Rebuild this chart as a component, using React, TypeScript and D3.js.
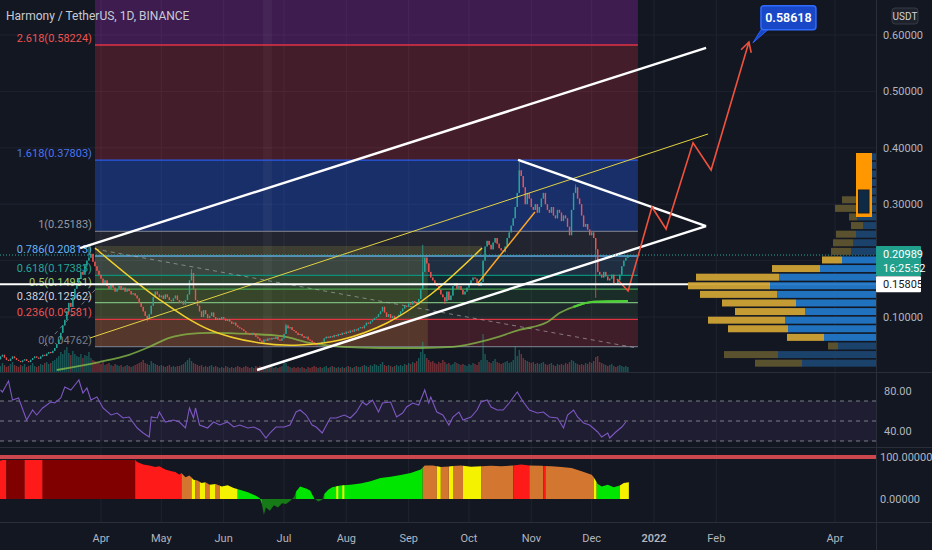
import React from "react";
import * as d3 from "d3";

const W = 932, H = 550;
const PR = 876;
const MAIN_B = 372;
const DAY0 = new Date(2021, 1, 9);
const FONT = "Roboto, 'Noto Sans', sans-serif";

// daily closes (USDT), day 0 = 2021-02-09
const closes = [
0.025,0.030,0.033,0.028,0.024,0.022,0.026,0.030,0.027,0.024,
0.022,0.020,0.023,0.025,0.022,0.020,0.024,0.027,0.030,0.028,
0.026,0.030,0.033,0.031,0.035,0.038,0.036,0.040,0.045,0.052,
0.060,0.072,0.085,0.095,0.110,0.125,0.118,0.135,0.150,0.160,
0.168,0.180,0.175,0.192,0.200,0.205,0.212,0.198,0.190,0.182,
0.175,0.168,0.160,0.165,0.155,0.150,0.158,0.152,0.145,0.150,
0.155,0.148,0.152,0.145,0.150,0.146,0.140,0.142,0.138,0.133,
0.125,0.118,0.110,0.102,0.098,0.105,0.120,0.135,0.145,0.140,
0.135,0.138,0.132,0.140,0.135,0.130,0.128,0.133,0.138,0.130,
0.125,0.128,0.122,0.130,0.140,0.165,0.178,0.150,0.130,0.120,
0.110,0.100,0.112,0.105,0.098,0.102,0.108,0.100,0.095,0.098,
0.095,0.100,0.097,0.093,0.096,0.092,0.088,0.090,0.085,0.082,
0.080,0.078,0.075,0.072,0.070,0.068,0.072,0.068,0.065,0.062,
0.058,0.055,0.060,0.058,0.062,0.060,0.063,0.061,0.065,0.060,
0.058,0.062,0.070,0.085,0.080,0.082,0.077,0.075,0.072,0.068,
0.070,0.066,0.063,0.065,0.060,0.058,0.055,0.052,0.050,0.054,
0.052,0.056,0.062,0.065,0.063,0.066,0.064,0.068,0.066,0.070,
0.068,0.072,0.070,0.074,0.072,0.076,0.074,0.078,0.076,0.080,
0.082,0.080,0.085,0.090,0.088,0.092,0.095,0.098,0.100,0.105,
0.110,0.118,0.108,0.100,0.105,0.098,0.102,0.097,0.100,0.104,
0.110,0.115,0.120,0.118,0.124,0.122,0.128,0.125,0.122,0.132,
0.150,0.180,0.205,0.195,0.180,0.170,0.165,0.160,0.155,0.148,
0.140,0.135,0.128,0.145,0.130,0.138,0.155,0.160,0.150,0.155,
0.148,0.140,0.145,0.152,0.158,0.165,0.170,0.168,0.160,0.155,
0.162,0.200,0.225,0.235,0.228,0.220,0.232,0.240,0.230,0.222,
0.218,0.215,0.225,0.240,0.250,0.262,0.275,0.295,0.320,0.360,
0.350,0.330,0.300,0.320,0.310,0.295,0.290,0.300,0.285,0.295,
0.310,0.320,0.300,0.290,0.285,0.295,0.280,0.275,0.290,0.285,
0.270,0.280,0.275,0.260,0.245,0.290,0.320,0.330,0.310,0.300,
0.280,0.260,0.265,0.255,0.245,0.250,0.240,0.220,0.180,0.175,
0.170,0.180,0.172,0.165,0.168,0.175,0.160,0.158,0.165,0.175,
0.190,0.200,0.205,0.210];

// notable wick extremes: [day, price]
const wicks: [number, number][] = [
  [45, 0.228], [74, 0.092], [96, 0.185], [211, 0.228], [222, 0.123],
  [259, 0.375], [287, 0.335], [297, 0.134], [143, 0.088],
];

const volumes = [
8,6,9,7,5,6,8,10,7,6, 5,7,6,8,5,6,7,9,6,5, 6,8,7,9,10,8,9,11,12,14,
16,20,18,22,25,19,17,21,18,16, 15,18,14,17,16,20,14,12,11,10, 9,8,10,7,8,9,7,6,8,7,
6,7,5,6,7,6,5,6,7,8, 9,10,12,9,8,7,11,9,8,7, 6,7,6,5,6,7,5,6,5,6,
6,7,8,10,12,14,11,9,8,7, 6,7,5,6,5,6,7,5,6,5, 4,5,4,6,5,4,5,4,5,6,
5,4,5,6,5,4,5,4,6,5, 6,5,4,5,4,6,5,4,5,4, 5,6,12,9,6,5,4,5,4,5,
4,5,4,3,5,4,5,6,5,4, 5,4,5,6,4,5,6,5,4,5, 4,5,4,5,6,5,4,5,6,5,
5,6,7,6,5,7,6,8,7,6, 8,10,7,6,7,6,5,6,7,6, 7,6,8,7,9,8,10,9,11,14,
20,30,18,14,12,10,11,9,8,10, 9,12,10,8,9,7,8,10,9,8, 7,8,7,6,8,7,9,8,7,10,
12,38,18,12,10,9,11,13,10,9, 8,9,10,11,9,10,12,26,16,22, 18,14,12,11,10,9,10,8,9,8,
9,10,8,7,8,9,7,6,8,7, 8,7,9,8,10,12,11,9,8,7, 8,7,9,8,10,9,11,15,16,10,
9,8,7,6,7,8,6,5,6,7, 6,5,6,5];

// moving average read points [day, price]
const maPoints: [number, number][] = [
  [29, 0.006], [50, 0.020], [65, 0.033], [75, 0.047], [85, 0.063], [95, 0.070],
  [105, 0.072], [125, 0.070], [141, 0.066], [155, 0.054], [171, 0.047], [190, 0.045],
  [210, 0.045], [226, 0.047], [243, 0.059], [259, 0.077], [273, 0.091], [279, 0.107],
  [286, 0.118], [296, 0.127], [313, 0.128],
];

// RSI read points [day, value]
const rsiPoints: [number, number][] = [
  [1,81],[2,79],[5,90],[7,71],[10,73],[14,51],[17,61],[19,56],[22,63],[26,69],[28,68],[31,73],
  [33,84],[36,81],[38,86],[40,91],[42,78],[44,83],[46,71],[49,74],[52,63],[56,56],[59,58],
  [62,53],[65,54],[69,43],[72,38],[75,34],[76,54],[79,53],[80,59],[83,49],[87,51],[90,49],
  [93,43],[95,63],[97,53],[98,63],[100,46],[104,43],[107,49],[110,46],[114,49],[117,44],
  [120,46],[124,43],[127,44],[130,41],[133,33],[135,38],[138,44],[142,44],[145,46],[148,59],
  [150,61],[153,56],[156,46],[158,44],[161,38],[165,53],[168,53],[172,56],[175,53],[178,59],
  [181,69],[183,66],[186,71],[189,59],[191,68],[195,69],[198,54],[201,58],[203,64],[206,68],
  [209,66],[212,81],[214,68],[215,74],[218,59],[221,56],[224,46],[226,54],[229,59],[231,51],
  [235,54],[238,61],[240,69],[243,71],[245,64],[248,61],[251,61],[254,68],[258,79],[261,69],
  [264,61],[268,58],[271,59],[274,54],[278,53],[281,43],[283,56],[286,61],[288,54],[291,48],
  [294,46],[298,39],[300,34],[303,38],[304,33],[307,39],[310,44],[312,49],
];

// trend oscillator read points [day, value] and colour segments [fromDay, toDay, colour]
const oscPoints: [number, number][] = [
  [-1,89],[2,93],[68,93],[69,88],[72,82],[75,80],[78,76],[80,78],[83,70],[86,66],[88,64],[90,58],
  [91,62],[93,52],[95,56],[97,46],[99,44],[101,38],[103,40],[105,34],[108,36],[111,30],[114,33],
  [117,26],[120,22],[124,16],[128,8],[130,2],[131,-12],[132,-38],[133,-20],[135,-28],[137,-15],
  [139,-20],[141,-10],[143,-12],[145,-5],[147,5],[148,18],[150,30],[153,25],[155,20],[157,2],
  [159,-6],[161,-2],[162,12],[164,22],[166,28],[170,32],[175,34],[180,37],[185,42],[190,50],
  [195,53],[200,57],[205,62],[210,70],[212,80],[216,80],[220,76],[225,78],[230,80],[235,77],
  [240,78],[245,79],[250,78],[256,80],[260,82],[264,80],[270,79],[275,78],[280,76],[285,74],
  [290,66],[295,58],[296,52],[298,36],[300,30],[303,34],[306,28],[309,32],[311,38],[313.5,40],
];
const RED = "#ff1a1a", DRED = "#800000", ORG = "#d27630", YEL = "#f5f200", GRN = "#00e600", DGRN = "#167a16";
const oscSegments: [number, number, string][] = [
  [-1,4,RED],[4,13,DRED],[13,22,RED],[22,68,DRED],[68,91,RED],[91,96,ORG],[96,98,YEL],[98,100,ORG],
  [100,103,YEL],[103,105,ORG],[105,108,YEL],[108,110,ORG],[110,119,YEL],[119,131,GRN],[131,148,DGRN],
  [148,157,GRN],[157,162,DGRN],[162,211,GRN],[168,169,YEL],[171,172,YEL],[211,218,ORG],[218,220,YEL],
  [220,224,ORG],[224,226,YEL],[226,231,ORG],[231,240,YEL],[240,256,ORG],[256,264,RED],[264,271,ORG],
  [271,272,RED],[272,296,ORG],[296,297.5,YEL],[297.5,309,GRN],[309,314,YEL],
];

// fibonacci retracement
const fibRatios = [0, 0.236, 0.382, 0.5, 0.618, 0.786, 1, 1.618, 2.618, 3.618];
const fibPrices = [0.04762, 0.09581, 0.12562, 0.14951, 0.17383, 0.20813, 0.25183, 0.37803, 0.58224, 0.78645];
const fibLineColors = ["#787b86","#f23645","#81c784","#4caf50","#089981","#64b5f6","#787b86","#2962ff","#f23645","#9c27b0"];
const fibLabelColors = ["#787b86","#ef5350","#d1d4dc","#9ccc65","#26a69a","#64b5f6","#9598a1","#4a74f0","#ef5350","#9c27b0"];
const fibFillAlpha = [0, 0.2, 0.1, 0.15, 0.15, 0.15, 0.15, 0.32, 0.22, 0.32];
const fibDays: [number, number] = [48, 318];

// drawings in [day, price]
const upperChannel: [number, number][] = [[40.6, 0.2223], [351.9, 0.577]];
const lowerChannel: [number, number][] = [[128.6, 0.006], [351.9, 0.2613]];
const triangleTop: [number, number][] = [[258.4, 0.3784], [351.9, 0.2613]];
const yellowLine: [number, number][] = [[45.5, 0.0628], [352.9, 0.4245]];
const cupCurve: [number, number][] = [
  [48, 0.2223], [80.4, 0.1301], [105.2, 0.077], [130.1, 0.0539], [150, 0.0504],
  [169.9, 0.0592], [193.2, 0.0894], [214.6, 0.139], [240.5, 0.2223],
];
const orangeLine: [number, number][] = [[238.5, 0.1603], [266.8, 0.2862]];
const dashedTrend: [number, number][] = [[48, 0.2205], [317.5, 0.045]];
const dashedTrend2: [number, number][] = [[22.7, 0.0486], [48, 0.1479]];
const projection: [number, number][] = [
  [307.6, 0.1674], [313.1, 0.1461], [325, 0.295], [332, 0.256], [345.4, 0.4089], [354.4, 0.3606], [373.2, 0.5876],
];
const targetPrice = 0.58618;
const targetDay = 375.2;
const oliveBand: [number, number, number, number][] = [
  [48, 240.5, 0.2082, 0.2259], [48, 213.5, 0.0476, 0.2082],
];
const highlightDays: [number, number] = [131.6, 136];

// volume profile rows (bottom to top)
const vpLow = 0.0105, vpStep = 0.01525;
const vpBuy = [74, 98, 38, 52, 88, 91, 71, 80, 99, 106, 97, 56, 34, 25, 23, 20, 13, 19, 19, 20, 10, 8, 6, 5, 4];
const vpSell = [47, 54, 10, 37, 60, 77, 70, 74, 77, 82, 83, 48, 20, 20, 20, 20, 12, 8, 22, 14, 4, 0, 0, 0, 0];
const vpValueArea: [number, number] = [3, 12];

const priceTicks = [0.1, 0.2, 0.3, 0.4, 0.5, 0.6];
const lastPrice = 0.20989;
const hLinePrice = 0.15805;
const countdown = "16:25:52";
const timeTicks = ["2021-04-01","2021-05-01","2021-06-01","2021-07-01","2021-08-01","2021-09-01","2021-10-01","2021-11-01","2021-12-01","2022-01-01","2022-02-01","2022-04-01"];
const timeLabels = ["Apr","May","Jun","Jul","Aug","Sep","Oct","Nov","Dec","2022","Feb","Apr"];

function hexA(hex: string, a: number) {
  const c = d3.color(hex)!;
  c.opacity = a;
  return c.toString();
}

export default function App() {
  const x = d3.scaleTime().domain([new Date(2021, 3, 1), new Date(2022, 0, 1)]).range([101, 654]);
  const xd = (d: number) => x(new Date(DAY0.getTime() + d * 86400000));
  const y = d3.scaleLinear().domain([0.1, 0.6]).range([317, 35]);
  const yR = d3.scaleLinear().domain([40, 80]).range([431, 391]);
  const yO = d3.scaleLinear().domain([0, 100]).range([499, 457]);
  const vH = d3.scaleLinear().domain([0, 40]).range([0, 40]);
  const vpW = d3.scaleLinear().domain([0, 188]).range([0, 188]);

  const pl = d3.line<[number, number]>().x((p) => xd(p[0])).y((p) => y(p[1]));
  const cupPath = d3.line<[number, number]>().x((p) => xd(p[0])).y((p) => y(p[1])).curve(d3.curveCatmullRom)(cupCurve)!;
  const maPath = d3.line<[number, number]>().x((p) => xd(p[0])).y((p) => y(p[1])).curve(d3.curveMonotoneX)(maPoints)!;
  const maTail = d3.line<[number, number]>().x((p) => xd(p[0])).y((p) => y(p[1])).curve(d3.curveMonotoneX)(maPoints.filter((p) => p[0] >= 286))!;
  const rsiPath = d3.line<[number, number]>().x((p) => xd(p[0])).y((p) => yR(p[1]))(rsiPoints)!;
  const oscArea = d3.area<[number, number]>().x((p) => xd(p[0])).y0(yO(0)).y1((p) => yO(p[1]))(oscPoints)!;

  const candles = closes.map((c, i) => {
    const o = i === 0 ? c : closes[i - 1];
    let hi = Math.max(o, c), lo = Math.min(o, c);
    wicks.forEach(([d, p]) => { if (d === i) { hi = Math.max(hi, p); lo = Math.min(lo, p); } });
    return { i, o, c, hi, lo, up: c >= o };
  });

  const fx0 = xd(fibDays[0]), fx1 = xd(fibDays[1]);

  // arrow head
  const n = projection.length;
  const tip = projection[n - 1], prev = projection[n - 2];
  const tx = xd(tip[0]), ty = y(tip[1]);
  const ang = Math.atan2(ty - y(prev[1]), tx - xd(prev[0]));
  const ah = 11;
  const wing1 = [tx - ah * Math.cos(ang - 0.5), ty - ah * Math.sin(ang - 0.5)];
  const wing2 = [tx - ah * Math.cos(ang + 0.5), ty - ah * Math.sin(ang + 0.5)];

  const cx = xd(targetDay), cy = y(targetPrice);
  const visibleTicks = priceTicks.filter((t) => Math.abs(y(t) - y(lastPrice)) > 18 && Math.abs(y(t) - y(hLinePrice)) > 12);

  return (
    <svg width={W} height={H} style={{ position: "absolute", left: 0, top: 0, background: "#131722" }} fontFamily={FONT}>
      <defs>
        <clipPath id="mainClip"><rect x={0} y={0} width={PR} height={MAIN_B} /></clipPath>
        <clipPath id="oscClip"><rect x={0} y={448} width={PR} height={74} /></clipPath>
        {oscSegments.map((s, i) => (
          <clipPath id={`seg${i}`} key={i}>
            <rect x={xd(s[0])} y={440} width={Math.max(0.5, xd(s[1]) - xd(s[0]))} height={90} />
          </clipPath>
        ))}
      </defs>
      <rect x={0} y={0} width={W} height={H} fill="#131722" />

      {/* grid */}
      {priceTicks.map((t) => (
        <line key={t} x1={0} x2={PR} y1={y(t)} y2={y(t)} stroke="#1f2330" strokeWidth={1} />
      ))}
      {timeTicks.map((t) => (
        <line key={t} x1={x(new Date(t))} x2={x(new Date(t))} y1={0} y2={522} stroke="#1f2330" strokeWidth={1} />
      ))}

      <g clipPath="url(#mainClip)">
        {/* fib fills */}
        {fibPrices.slice(1).map((p, k) => {
          const i = k + 1;
          return (
            <rect key={i} x={fx0} width={fx1 - fx0} y={y(p)} height={y(fibPrices[i - 1]) - y(p)}
              fill={hexA(fibLineColors[i], fibFillAlpha[i])} />
          );
        })}
        {/* olive overlay */}
        {oliveBand.map((b, i) => (
          <rect key={i} x={xd(b[0])} width={xd(b[1]) - xd(b[0])} y={y(b[3])} height={y(b[2]) - y(b[3])} fill="rgba(230,220,60,0.14)" />
        ))}
        {/* highlight column */}
        <rect x={xd(highlightDays[0])} width={xd(highlightDays[1]) - xd(highlightDays[0])} y={0} height={MAIN_B} fill="rgba(255,255,255,0.04)" />
        {/* fib lines */}
        {fibPrices.slice(0, 9).map((p, i) => (
          <line key={i} x1={fx0} x2={fx1} y1={y(p)} y2={y(p)} stroke={fibLineColors[i]} strokeWidth={1.3} opacity={0.9} />
        ))}
        {/* fib labels */}
        {fibPrices.slice(0, 9).map((p, i) => (
          <text key={i} x={fx0 - 3} y={y(p) - 3} textAnchor="end" fontSize={11} fill={fibLabelColors[i]}>
            {`${fibRatios[i]}(${p.toFixed(5)})`}
          </text>
        ))}

        {/* volume */}
        {volumes.map((v, i) => (
          <rect key={i} x={xd(i) - 0.7} width={1.4} y={MAIN_B - vH(v)} height={vH(v)}
            fill={candles[i] && candles[i].up ? "rgba(38,166,154,0.45)" : "rgba(239,83,80,0.45)"} />
        ))}

        {/* dashed trend lines */}
        <path d={pl(dashedTrend)!} stroke="rgba(180,182,190,0.6)" strokeDasharray="4,4" fill="none" />
        <path d={pl(dashedTrend2)!} stroke="rgba(180,182,190,0.6)" strokeDasharray="4,4" fill="none" />

        {/* MA */}
        <path d={maPath} stroke="#8bc34a" strokeWidth={1.8} fill="none" opacity={0.75} />
        <path d={maTail} stroke="#4cd137" strokeWidth={2.2} fill="none" />

        {/* candles */}
        {candles.map((k) => {
          const col = k.up ? "#26a69a" : "#ef5350";
          const cxk = xd(k.i);
          const top = y(Math.max(k.o, k.c)), bot = y(Math.min(k.o, k.c));
          return (
            <g key={k.i}>
              <line x1={cxk} x2={cxk} y1={y(k.hi)} y2={y(k.lo)} stroke={col} strokeWidth={0.8} />
              <rect x={cxk - 0.7} width={1.4} y={top} height={Math.max(0.8, bot - top)} fill={col} />
            </g>
          );
        })}

        {/* drawings */}
        <path d={pl(yellowLine)!} stroke="#e3d245" strokeWidth={1} fill="none" />
        <path d={cupPath} stroke="#f2cf2c" strokeWidth={1.5} fill="none" />
        <path d={pl(orangeLine)!} stroke="#ffa726" strokeWidth={1.5} fill="none" />
        <path d={pl(upperChannel)!} stroke="#ffffff" strokeWidth={2.4} fill="none" />
        <path d={pl(lowerChannel)!} stroke="#ffffff" strokeWidth={2.4} fill="none" />
        <path d={pl(triangleTop)!} stroke="#ffffff" strokeWidth={2.4} fill="none" />
        <path d={pl(projection)!} stroke="#f0513c" strokeWidth={1.6} fill="none" strokeLinejoin="miter" />
        <path d={`M${wing1[0]},${wing1[1]}L${tx},${ty}L${wing2[0]},${wing2[1]}`} stroke="#f0513c" strokeWidth={1.6} fill="none" />

        {/* current price dotted line */}
        <line x1={0} x2={PR} y1={y(lastPrice)} y2={y(lastPrice)} stroke="#26a69a" strokeDasharray="1,2" strokeWidth={1} />
        {/* horizontal level */}
        <line x1={0} x2={PR} y1={y(hLinePrice)} y2={y(hLinePrice)} stroke="#ffffff" strokeWidth={2} />

        {/* volume profile */}
        {vpBuy.map((b, i) => {
          const s = vpSell[i];
          const inVA = i >= vpValueArea[0] && i <= vpValueArea[1];
          const yTop = y(vpLow + (i + 1) * vpStep) + 0.8;
          const hh = y(vpLow + i * vpStep) - y(vpLow + (i + 1) * vpStep) - 1.6;
          return (
            <g key={i}>
              <rect x={PR - vpW(b)} width={vpW(b)} y={yTop} height={hh} fill={inVA ? "#2177c7" : "#1c4a78"} opacity={inVA ? 0.95 : 0.85} />
              <rect x={PR - vpW(b) - vpW(s)} width={vpW(s)} y={yTop} height={hh} fill={inVA ? "#cfa235" : "#5e5430"} opacity={0.95} />
            </g>
          );
        })}
        {/* orange marker box */}
        <rect x={856} y={153} width={16} height={64} fill="#ff9800" />
        <rect x={858.5} y={190} width={10.5} height={23} fill="#0f2a44" stroke="#1b1d24" strokeWidth={1} />
      </g>

      {/* target callout */}
      <path d={`M${cx},${cy} L${cx + 10},${cy - 16} L${cx + 16},${cy - 14} Z`} fill="#1848c8" stroke="#2962ff" strokeWidth={1} />
      <rect x={cx + 8} y={cy - 37} width={55} height={24} rx={3} fill="#1848c8" stroke="#2f6bff" strokeWidth={1.5} />
      <text x={cx + 35.5} y={cy - 20.5} textAnchor="middle" fontSize={12.5} fontWeight={600} fill="#ffffff">{targetPrice.toFixed(5)}</text>

      {/* title */}
      <text x={6} y={20} fontSize={12} fill="#c8cbd4">Harmony / TetherUS, 1D, BINANCE</text>

      {/* RSI pane */}
      <line x1={0} x2={W} y1={372.5} y2={372.5} stroke="#2a2e39" />
      <rect x={0} width={PR} y={yR(70)} height={yR(30) - yR(70)} fill="rgba(126,87,194,0.10)" />
      {[70, 50, 30].map((v) => (
        <line key={v} x1={0} x2={PR} y1={yR(v)} y2={yR(v)} stroke="#9598a1" strokeDasharray="4,4" strokeWidth={1} opacity={0.8} />
      ))}
      <path d={rsiPath} stroke="#7e57c2" strokeWidth={1.1} fill="none" />
      <line x1={0} x2={W} y1={447.5} y2={447.5} stroke="#2a2e39" />

      {/* oscillator pane */}
      <g clipPath="url(#oscClip)">
        {oscSegments.map((s, i) => (
          <path key={i} d={oscArea} fill={s[2]} clipPath={`url(#seg${i})`} />
        ))}
      </g>
      <rect x={0} width={PR} y={yO(100) - 2} height={4} fill="rgba(235,80,85,0.85)" />
      <line x1={0} x2={W} y1={522.5} y2={522.5} stroke="#2a2e39" />

      {/* price axis */}
      <line x1={PR + 0.5} x2={PR + 0.5} y1={0} y2={550} stroke="#2a2e39" />
      {visibleTicks.map((t) => (
        <text key={t} x={883} y={y(t) + 4} fontSize={11} fill="#b2b5be">{t.toFixed(5)}</text>
      ))}
      <rect x={892} y={8} width={26} height={16} rx={3} fill="#1e222d" stroke="#363a45" />
      <text x={905} y={20} textAnchor="middle" fontSize={10} fill="#d1d4dc">USDT</text>
      <rect x={PR} y={y(lastPrice) - 9} width={45} height={30} rx={1} fill="#22a08e" />
      <text x={883} y={y(lastPrice) + 3} fontSize={11} fill="#ffffff">{lastPrice.toFixed(5)}</text>
      <text x={883} y={y(lastPrice) + 17} fontSize={11} fill="#ffffff">{countdown}</text>
      <rect x={PR} y={y(hLinePrice) - 8} width={45} height={16} rx={1} fill="#ffffff" />
      <text x={883} y={y(hLinePrice) + 4} fontSize={11} fill="#131722">{hLinePrice.toFixed(5)}</text>
      {[80, 40].map((v) => (
        <text key={v} x={884} y={yR(v) + 4} fontSize={11} fill="#b2b5be">{v.toFixed(2)}</text>
      ))}
      {[100, 0].map((v) => (
        <text key={v} x={880} y={yO(v) + 4} fontSize={11} fill="#b2b5be">{v.toFixed(5)}</text>
      ))}

      {/* time axis */}
      {timeTicks.map((t, i) => (
        <text key={t} x={x(new Date(t))} y={542} textAnchor="middle" fontSize={11}
          fontWeight={timeLabels[i] === "2022" ? 600 : 400} fill="#b2b5be">{timeLabels[i]}</text>
      ))}
    </svg>
  );
}
